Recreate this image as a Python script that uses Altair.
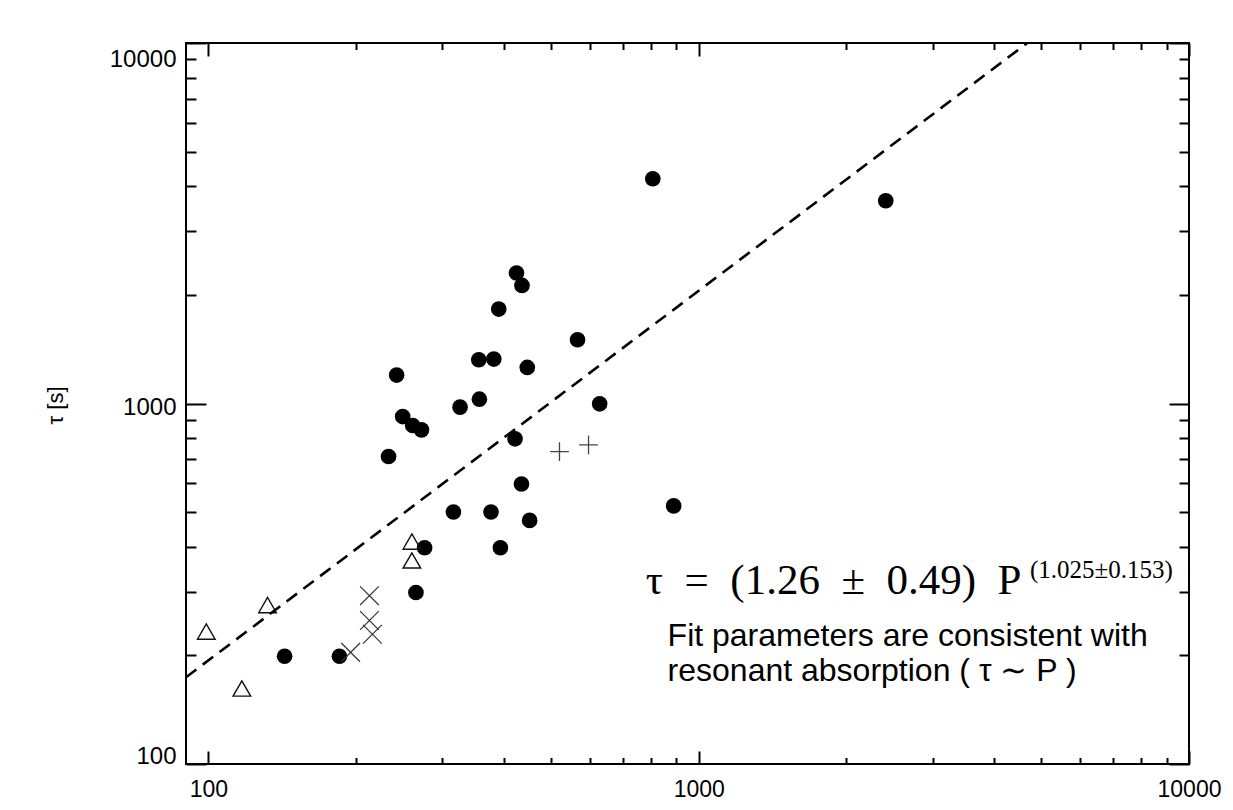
import altair as alt
import pandas as pd

# ---- data (P [s], tau [s]) ----
circ_p = [143, 185, 233, 242, 249, 261, 272, 265, 276, 316, 326, 356, 357, 377,
          382, 391, 394, 422, 425, 435, 436, 447, 452, 566, 628, 889, 806, 2407]
circ_tau = [199, 199, 713, 1199, 920, 869, 845, 299, 398, 500, 977, 1322, 1028, 500,
            1328, 1828, 398, 798, 2301, 598, 2126, 1259, 474, 1503, 998, 520, 4203, 3652]
tri_p = [99, 117, 132, 260, 260]
tri_tau = [233, 162, 276, 414, 367]
xmark_p = [195, 213, 213, 216]
xmark_tau = [204, 293, 250, 229]
plus_p = [520, 596]
plus_tau = [735, 768]
fit_p = [90, 4680]
fit_tau = [174, 10000]

major_vals = [100, 1000, 10000]
minor_vals = [200, 300, 400, 500, 600, 700, 800, 900,
              2000, 3000, 4000, 5000, 6000, 7000, 8000, 9000]

formula_text = ["τ\u2002=\u2002(1.26\u2002±\u20020.49)\u2002P", "(1.025±0.153)"]
formula_p = [780, 4738]
formula_tau = [296, 329]
formula_size = [43, 25]
note_text = ["Fit parameters are consistent with", "resonant absorption ( τ ∼ P )"]
note_p = [864, 864]
note_tau = [213, 170]

# ---- tables ----
circ = pd.DataFrame({"p": circ_p, "tau": circ_tau})
tri = pd.DataFrame({"p": tri_p, "tau": tri_tau})
xm = pd.DataFrame({"p": xmark_p, "tau": xmark_tau})
pl = pd.DataFrame({"p": plus_p, "tau": plus_tau})
fit = pd.DataFrame({"p": fit_p, "tau": fit_tau})
formula = pd.DataFrame({"p": formula_p, "tau": formula_tau, "t": formula_text, "fs": formula_size})
notes = pd.DataFrame({"p": note_p, "tau": note_tau, "t": note_text})

xs = alt.Scale(type="log", domain=[90, 10000], nice=False)
ys = alt.Scale(type="log", domain=[100, 10000], nice=False)


def tick_axis(orient, values, size, width=2):
    return alt.Axis(orient=orient, values=values, tickSize=size, offset=-size,
                    labels=False, domain=False, grid=False, title="",
                    tickColor="black", tickWidth=width)


def enc(xaxis, yaxis):
    return dict(
        x=alt.X("p:Q", scale=xs, axis=xaxis),
        y=alt.Y("tau:Q", scale=ys, axis=yaxis),
    )


circles = alt.Chart(circ).mark_circle(size=245, color="black", opacity=1).encode(
    **enc(tick_axis("bottom", major_vals, 13), tick_axis("left", major_vals, 20))
)

triangles = alt.Chart(tri).mark_point(
    shape="triangle-up", filled=False, size=310, strokeWidth=1.4, color="#111111", opacity=1
).encode(
    **enc(tick_axis("bottom", minor_vals, 6.5), tick_axis("left", minor_vals, 10))
)

xmarks = alt.Chart(xm).mark_point(
    shape="M-1,-1L1,1M-1,1L1,-1", filled=False, size=350, strokeWidth=1.2,
    color="#333333", opacity=1
).encode(
    **enc(tick_axis("top", major_vals, 13), tick_axis("right", major_vals, 20))
)

pluses = alt.Chart(pl).mark_point(
    shape="M0,-1L0,1M-1,0L1,0", filled=False, size=350, strokeWidth=1.3,
    color="#444444", opacity=1
).encode(
    **enc(tick_axis("top", minor_vals, 6.5), tick_axis("right", minor_vals, 10))
)

label_x_axis = alt.Axis(orient="bottom", values=major_vals, ticks=False, tickSize=0,
                        labelPadding=14, domain=False, grid=False, title="",
                        labelFont="Liberation Sans", labelFontSize=23,
                        labelColor="black", labelFlush=False, labelExpr="datum.value")
label_y_axis = alt.Axis(orient="left", values=major_vals, ticks=False, tickSize=0,
                        labelPadding=10, domain=False, grid=False,
                        labelFont="Liberation Sans", labelFontSize=24,
                        labelColor="black", labelFlush=True, labelOffset=4,
                        labelExpr="datum.value",
                        title="τ [s]", titleFont="Liberation Sans", titleFontSize=22,
                        titleFontWeight="normal", titleColor="black",
                        titleAngle=270, titleAlign="center", titleBaseline="middle",
                        titleX=-131, titleY=362)

fitline = alt.Chart(fit).mark_line(
    strokeDash=[13, 8], strokeWidth=2.6, color="black", clip=True
).encode(**enc(label_x_axis, label_y_axis))

formula_layer = alt.Chart(formula).mark_text(
    align="left", baseline="alphabetic", font="Liberation Serif", color="black"
).encode(
    x=alt.X("p:Q", scale=xs, axis=None),
    y=alt.Y("tau:Q", scale=ys, axis=None),
    text="t:N",
    size=alt.Size("fs:Q", scale=None),
)

notes_layer = alt.Chart(notes).mark_text(
    align="left", baseline="alphabetic", font="Liberation Sans", fontSize=32, color="black"
).encode(
    x=alt.X("p:Q", scale=xs, axis=None),
    y=alt.Y("tau:Q", scale=ys, axis=None),
    text="t:N",
)

chart = alt.layer(
    circles, triangles, xmarks, pluses, fitline, formula_layer, notes_layer
).resolve_axis(
    x="independent", y="independent"
).properties(
    width=1003, height=721,
    autosize=alt.AutoSizeParams(type="none"),
    padding={"left": 178, "top": 35, "right": 34, "bottom": 38},
    background="white",
).configure_view(
    stroke="black", strokeWidth=2
)

chart.save("out.html", embed_options={"renderer": "svg", "actions": False})
